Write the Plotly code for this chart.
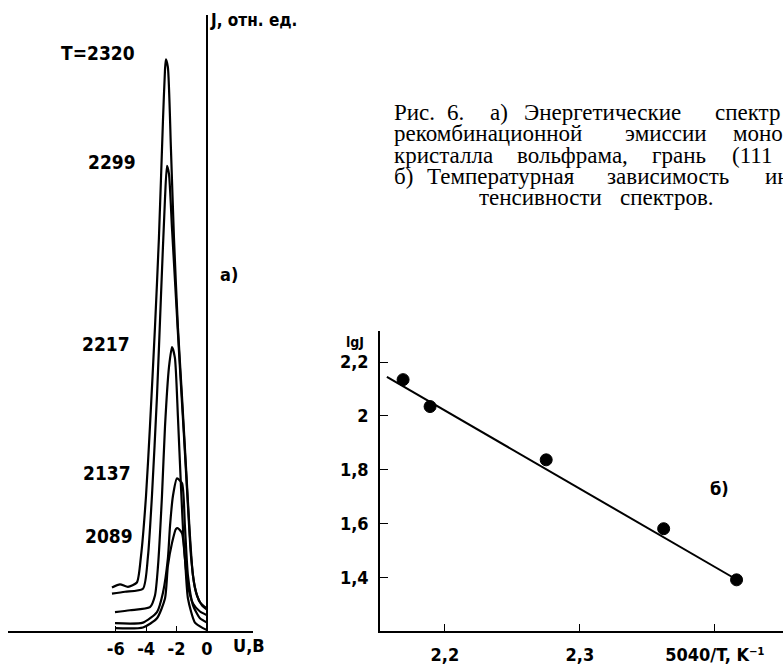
import plotly.graph_objects as go

W, H = 783, 665

# ---------------- Panel a): energy spectra (U in V, J in rel. units) ----------------
U_2320 = [-6.25, -5.72, -5.20, -4.61, -4.34, -4.01, -3.75, -3.42, -3.16, -2.89, -2.76, -2.70,
          -2.57, -2.37, -2.17, -1.91, -1.64, -1.38, -1.12, -0.92, -0.66, -0.33, 0.0]
J_2320 = [7.1, 7.6, 7.2, 7.9, 12.2, 21.9, 33.2, 49.3, 63.8, 83.1, 91.1, 92.8,
          91.5, 78.3, 63.8, 49.3, 38.0, 26.7, 15.5, 9.0, 5.8, 4.2, 3.5]

U_2299 = [-6.25, -5.39, -4.21, -3.88, -3.62, -3.29, -3.03, -2.76, -2.63, -2.50, -2.30,
          -2.04, -1.78, -1.51, -1.25, -1.05, -0.79, -0.46, 0.0]
J_2299 = [6.1, 6.4, 6.9, 12.2, 21.9, 38.0, 54.1, 70.2, 75.5, 74.2, 65.4,
          54.1, 42.8, 31.6, 20.3, 12.2, 7.1, 4.7, 3.7]

U_2217 = [-6.05, -5.07, -3.75, -3.42, -3.22, -2.96, -2.76, -2.50, -2.30, -2.11, -1.91,
          -1.71, -1.51, -1.25, -0.92, -0.46, 0.0]
J_2217 = [3.1, 3.4, 3.9, 5.8, 10.6, 21.9, 33.2, 42.8, 46.1, 44.4, 34.8,
          23.5, 13.8, 7.4, 4.5, 3.2, 2.6]

U_2137 = [-6.05, -4.21, -3.29, -2.89, -2.57, -2.43, -2.24, -1.97, -1.64, -1.45, -1.25,
          -0.92, -0.46, 0.0]
J_2137 = [1.3, 1.4, 3.1, 6.3, 11.8, 17.1, 21.9, 24.8, 24.0, 17.1, 9.0,
          4.2, 2.1, 1.4]

U_2089 = [-6.05, -4.21, -3.29, -2.76, -2.57, -2.30, -2.04, -1.91, -1.64, -1.45, -1.25,
          -0.79, -0.26, 0.0]
J_2089 = [0.5, 0.6, 2.1, 5.3, 10.6, 14.3, 16.6, 16.7, 15.9, 11.8, 5.3,
          1.4, 0.5, 0.2]

spectra = [(U_2320, J_2320), (U_2299, J_2299), (U_2217, J_2217), (U_2137, J_2137), (U_2089, J_2089)]
temp_labels = ["T=2320", "2299", "2217", "2137", "2089"]

U_ticks = [-6, -4, -2, 0]
U_ticktext = ["-6", "-4", "-2", "0"]

# ---------------- Panel б): lg J vs 5040/T ----------------
inv_T = [2.169, 2.189, 2.275, 2.362, 2.416]
lg_J = [2.135, 2.035, 1.837, 1.581, 1.391]
fit_x = [2.157, 2.415]
fit_y = [2.145, 1.395]

b_xticks = [2.2, 2.3, 2.4]
b_xticktext = ["2,2", "2,3", "5040/T, K⁻¹"]
b_yticks = [1.4, 1.6, 1.8, 2.0, 2.2]
b_yticktext = ["1,4", "1,6", "1,8", "2", "2,2"]

caption_words = [
    # (word, left px, baseline px)
    ("Рис.", 392, 118), ("6.", 445, 118), ("а)", 488, 118), ("Энергетические", 522, 118), ("спектр", 713, 118),
    ("рекомбинационной", 392, 139), ("эмиссии", 623, 139), ("моно", 731, 139),
    ("кристалла", 392, 161), ("вольфрама,", 515, 161), ("грань", 650, 161), ("(111", 730, 161),
    ("б)", 392, 182), ("Температурная", 425, 182), ("зависимость", 605, 182), ("ин", 763, 182),
    ("тенсивности", 477, 204), ("спектров.", 618, 204),
]

HAND = "DejaVu Sans Condensed, Liberation Sans Narrow, DejaVu Sans, sans-serif"
SERIF = "Liberation Serif, DejaVu Serif, serif"


def px(x):
    return x / W


def py(y):
    return 1 - y / H


fig = go.Figure()

for (u, j) in spectra:
    fig.add_trace(go.Scatter(x=u, y=j, mode="lines", xaxis="x", yaxis="y",
                             line=dict(color="black", width=2.2, shape="spline", smoothing=0.6),
                             showlegend=False, hoverinfo="skip"))

fig.add_trace(go.Scatter(x=fit_x, y=fit_y, mode="lines", xaxis="x2", yaxis="y2",
                         line=dict(color="black", width=2), showlegend=False))
fig.add_trace(go.Scatter(x=inv_T, y=lg_J, mode="markers", xaxis="x2", yaxis="y2",
                         marker=dict(color="black", size=12, line=dict(color="black", width=1)),
                         showlegend=False))

axis_font = dict(family=HAND, size=18, color="black", weight="bold")

fig.update_layout(
    width=W, height=H,
    margin=dict(l=0, r=0, t=0, b=0),
    paper_bgcolor="white", plot_bgcolor="white",
    showlegend=False,
    xaxis=dict(domain=[px(8), px(253)], range=[-13.09, 3.03], showgrid=False,
               showline=True, linecolor="black", linewidth=1.6,
               zeroline=True, zerolinecolor="black", zerolinewidth=1.6,
               ticks="inside", ticklen=5, tickcolor="black", tickwidth=1.4,
               tickvals=U_ticks, ticktext=U_ticktext, tickfont=axis_font,
               anchor="y"),
    yaxis=dict(domain=[py(636), py(15)], range=[0, 100], visible=False, anchor="x"),
    xaxis2=dict(domain=[px(380), 1.0], range=[2.1519, 2.4504], showgrid=False,
                showline=True, linecolor="black", linewidth=1.6, zeroline=False,
                ticks="inside", ticklen=7, tickcolor="black", tickwidth=1.4,
                tickvals=b_xticks, ticktext=b_xticktext, tickfont=axis_font,
                ticklabelstandoff=6, anchor="y2"),
    yaxis2=dict(domain=[py(636), py(334)], range=[1.2, 2.314], showgrid=False,
                showline=True, linecolor="black", linewidth=1.6, zeroline=False,
                ticks="inside", ticklen=8, tickcolor="black", tickwidth=1.4,
                tickvals=b_yticks, ticktext=b_yticktext, tickfont=axis_font,
                ticklabelstandoff=6, anchor="x2"),
)

ann = []
# temperature labels (right-aligned)
label_pos = [(137, 53), (138, 163), (132, 347), (133, 477), (135, 540)]
for t, (x, y) in zip(temp_labels, label_pos):
    ann.append(dict(text=t, x=px(x), y=py(y), xref="paper", yref="paper",
                    xanchor="right", yanchor="middle", showarrow=False,
                    font=dict(family=HAND, size=19, color="black", weight="bold")))

ann.append(dict(text="J, отн. ед.", x=px(208), y=py(20), xref="paper", yref="paper",
                xanchor="left", yanchor="middle", showarrow=False,
                font=dict(family=HAND, size=17, color="black", weight="bold")))
ann.append(dict(text="а)", x=px(218), y=py(277), xref="paper", yref="paper",
                xanchor="left", yanchor="middle", showarrow=False,
                font=dict(family=HAND, size=18, color="black", weight="bold")))
ann.append(dict(text="U,B", x=px(249), y=py(650), xref="paper", yref="paper",
                xanchor="center", yanchor="middle", showarrow=False,
                font=dict(family=HAND, size=18, color="black", weight="bold")))

ann.append(dict(text="lgJ", x=px(355), y=py(345), xref="paper", yref="paper",
                xanchor="center", yanchor="middle", showarrow=False,
                font=dict(family=HAND, size=14, color="black", weight="bold")))
ann.append(dict(text="б)", x=px(719), y=py(492), xref="paper", yref="paper",
                xanchor="center", yanchor="middle", showarrow=False,
                font=dict(family=HAND, size=18, color="black", weight="bold")))

for word, x, base in caption_words:
    ann.append(dict(text=word, x=px(x), y=py(base + 10), xref="paper", yref="paper",
                    xanchor="left", yanchor="bottom", showarrow=False,
                    font=dict(family=SERIF, size=23, color="black")))

fig.update_layout(annotations=ann)

fig.write_html("out.html")
